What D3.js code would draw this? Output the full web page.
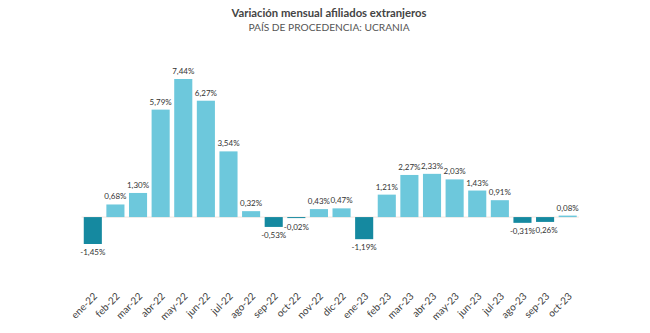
<!DOCTYPE html>
<html lang="es">
<head>
<meta charset="UTF-8">
<title>Variación mensual afiliados extranjeros</title>
<script src="https://d3js.org/d3.v7.min.js"></script>
<style>
    body { margin: 0; background: #fff; font-family: Lato, "Open Sans", sans-serif; }
    .title { font-size: 11.3px; font-weight: bold; fill: #444; }
    .subtitle { font-size: 10.2px; fill: #555; }
    .val { font-size: 8px; fill: #333; }
    .xlab { font-size: 10px; fill: #404040; }
</style>
</head>
<body>
<svg width="650" height="333"></svg>
<script>
const months = ["ene-22","feb-22","mar-22","abr-22","may-22","jun-22","jul-22","ago-22","sep-22","oct-22","nov-22","dic-22",
                "ene-23","feb-23","mar-23","abr-23","may-23","jun-23","jul-23","ago-23","sep-23","oct-23"];
const values = [-1.45, 0.68, 1.30, 5.79, 7.44, 6.27, 3.54, 0.32, -0.53, -0.02, 0.43, 0.47,
                -1.19, 1.21, 2.27, 2.33, 2.03, 1.43, 0.91, -0.31, -0.26, 0.08];

const svg = d3.select("svg");

const x = d3.scaleBand()
    .domain(months)
    .range([81.5, 579])
    .paddingInner(0.2)
    .paddingOuter(0.1);

// 0 at y=217, 7.44 at y=79
const y = d3.scaleLinear()
    .domain([-1.45, 7.44])
    .range([244, 79]);

const fmt = v => d3.format(".2f")(v).replace(".", ",").replace("−", "-") + "%";

svg.append("text").attr("class", "title")
    .attr("x", 329).attr("y", 17).attr("text-anchor", "middle")
    .text("Variación mensual afiliados extranjeros");
svg.append("text").attr("class", "subtitle")
    .attr("x", 329).attr("y", 31).attr("text-anchor", "middle")
    .text("PAÍS DE PROCEDENCIA: UCRANIA");

// baseline
svg.append("line")
    .attr("x1", x.range()[0]).attr("x2", x.range()[1])
    .attr("y1", y(0)).attr("y2", y(0))
    .attr("stroke", "#f2e6e0").attr("stroke-width", 1);

const data = months.map((m, i) => ({ m, v: values[i] }));

svg.append("g").selectAll("rect")
    .data(data)
    .join("rect")
    .attr("x", d => x(d.m))
    .attr("width", x.bandwidth())
    .attr("y", d => y(Math.max(0, d.v)))
    .attr("height", d => Math.max(1, Math.abs(y(d.v) - y(0))))
    .attr("fill", d => d.v < 0 ? "#1589a0" : "#6dc8dc");

svg.append("g").selectAll("text")
    .data(data)
    .join("text")
    .attr("class", "val")
    .attr("text-anchor", "middle")
    .attr("x", d => x(d.m) + x.bandwidth() / 2)
    .attr("y", d => d.v < 0 ? Math.max(y(d.v), y(0) + 2) + 11 : y(d.v) - 5)
    .text(d => fmt(d.v));

svg.append("g").selectAll("text")
    .data(months)
    .join("text")
    .attr("class", "xlab")
    .attr("text-anchor", "end")
    .attr("transform", d => `translate(${x(d) + x.bandwidth() / 2 + 5},${297}) rotate(-45)`)
    .text(d => d);
</script>
</body>
</html>
